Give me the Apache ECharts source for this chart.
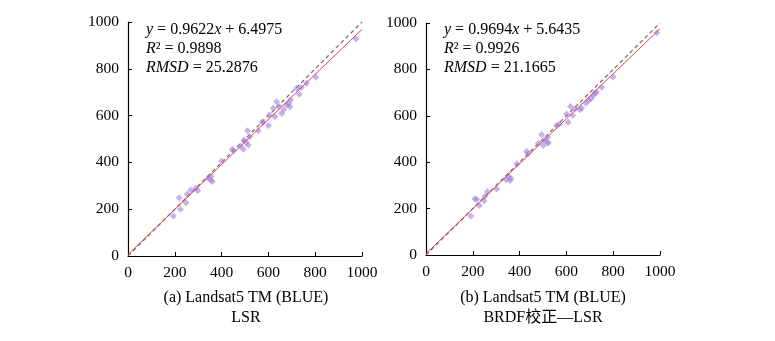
<!DOCTYPE html>
<html><head><meta charset="utf-8">
<script src="https://cdn.jsdelivr.net/npm/echarts@6/dist/echarts.min.js"></script>
<style>html,body{margin:0;padding:0;background:#fff}#c{width:775px;height:341px}</style>
</head><body><div id="c"></div>
<script>
const ticks = [0, 200, 400, 600, 800, 1000];
const pointsA = [[194,171],[219,249],[224,200],[248,228],[253,264],[268,282],[298,279],[290,290],[343,332],[353,325],[360,318],[355,340],[400,406],[446,456],[450,450],[493,456],[496,496],[514,474],[505,485],[511,535],[557,535],[576,574],[600,558],[604,603],[621,631],[628,595],[635,659],[645,640],[657,609],[665,625],[678,645],[685,652],[692,638],[695,667],[721,717],[732,691],[740,720],[763,738],[803,764],[974,927],[575,570],[480,470],[520,510]];
const pointsB = [[192,168],[209,242],[217,239],[228,213],[248,234],[252,253],[262,273],[302,285],[342,324],[352,339],[359,321],[363,331],[388,393],[430,446],[437,438],[480,482],[494,519],[501,472],[504,496],[518,486],[520,508],[523,483],[558,558],[570,565],[601,608],[608,572],[618,640],[627,601],[637,630],[658,626],[665,634],[684,654],[694,666],[704,673],[715,688],[722,698],[729,702],[751,723],[800,767],[986,958]];
const fitA = {slope: 0.9622, intercept: 6.4975, r2: '0.9898', rmsd: '25.2876'};
const fitB = {slope: 0.9694, intercept: 5.6435, r2: '0.9926', rmsd: '21.1665'};
const captionsA = ['(a) Landsat5 TM (BLUE)', 'LSR'];
const captionsB = ['(b) Landsat5 TM (BLUE)', 'BRDF校正—LSR'];

const FONT = '"Liberation Serif", "Times New Roman", serif';
const chart = echarts.init(document.getElementById('c'));
function axis(gi) {
  return {
    gridIndex: gi, type: 'value', min: 0, max: 1000, interval: 200,
    axisLine: {show: true, onZero: false, lineStyle: {color: '#000', width: 1.2}},
    axisTick: {show: true, inside: true, length: 4, lineStyle: {color: '#000'}},
    axisLabel: {color: '#000', fontFamily: FONT, fontSize: 15.5, margin: 9, formatter: v => String(v)},
    splitLine: {show: false}
  };
}
function fitLine(f) { return [[0, f.intercept], [1000, f.slope * 1000 + f.intercept]]; }
const lbl = {i: {fontStyle: 'italic', fontFamily: FONT, fontSize: 16, color: '#000'}, n: {fontFamily: FONT, fontSize: 16, color: '#000'}};
function eqText(x, f) {
  return {
    type: 'text', left: x, top: 20,
    style: {
      text: '{i|y}{n| = ' + f.slope.toFixed(4) + '}{i|x}{n| + ' + f.intercept.toFixed(4) + '}\n{i|R}{n|² = ' + f.r2 + '}\n{i|RMSD}{n| = ' + f.rmsd + '}',
      rich: lbl, lineHeight: 19, fill: '#000'
    }
  };
}
function cap(cx, lines) {
  return {
    type: 'text', x: cx, y: 288,
    style: {text: lines.join('\n'), align: 'center', verticalAlign: 'top', font: '16px ' + FONT + ', "Noto Sans CJK SC"', lineHeight: 20, fill: '#000'}
  };
}
const sc = {type: 'scatter', symbol: 'diamond', symbolSize: 7, itemStyle: {color: 'rgba(160,128,225,0.75)'}, z: 3};
const dash = {type: 'line', symbol: 'none', lineStyle: {color: '#777', width: 1.3, type: [4, 3]}, z: 2, silent: true};
const red = {type: 'line', symbol: 'none', lineStyle: {color: '#e8404a', width: 1}, z: 4, silent: true};
chart.setOption({
  animation: false,
  grid: [
    {left: 128, top: 22, width: 234, height: 234},
    {left: 426, top: 23, width: 234, height: 232}
  ],
  xAxis: [axis(0), axis(1)],
  yAxis: [axis(0), axis(1)],
  series: [
    Object.assign({}, dash, {xAxisIndex: 0, yAxisIndex: 0, data: [[0, ticks[0]], [1000, ticks[5]]]}),
    Object.assign({}, sc, {xAxisIndex: 0, yAxisIndex: 0, data: pointsA}),
    Object.assign({}, red, {xAxisIndex: 0, yAxisIndex: 0, data: fitLine(fitA)}),
    Object.assign({}, dash, {xAxisIndex: 1, yAxisIndex: 1, data: [[0, ticks[0]], [1000, ticks[5]]]}),
    Object.assign({}, sc, {xAxisIndex: 1, yAxisIndex: 1, data: pointsB}),
    Object.assign({}, red, {xAxisIndex: 1, yAxisIndex: 1, data: fitLine(fitB)})
  ],
  graphic: [eqText(146, fitA), eqText(444, fitB), cap(246, captionsA), cap(543, captionsB)]
});
</script></body></html>
